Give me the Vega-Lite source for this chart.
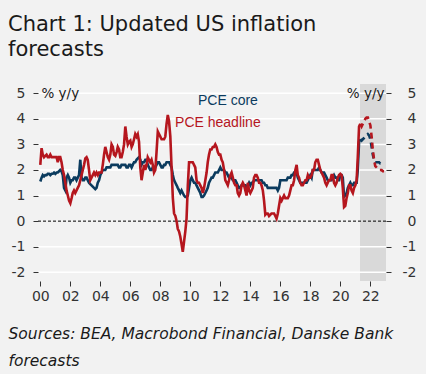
{
"$schema":"https://vega.github.io/schema/vega-lite/v6.json",
"autosize":"none","width":348,"height":197,
"padding":{"left":38,"top":84,"right":40,"bottom":93},
"background":"#f2f2f2",
"config":{"view":{"stroke":null},"font":"DejaVu Sans",
 "axisX":{"format":"%y","tickCount":{"interval":"year","step":2},"domain":false,"grid":false,"ticks":true,"tickSize":5,"tickColor":"#333333","labelFont":"DejaVu Sans","labelFontSize":14,"labelColor":"#333333","labelPadding":3,"labelFlush":false,"labelOverlap":false,
  "titleFont":"DejaVu Sans","titleFontStyle":"italic","titleFontWeight":"normal","titleFontSize":15.5,"titleColor":"#1a1a1a","titleAlign":"left","titleAnchor":"start","titleX":-30,"titleY":57,"titleBaseline":"alphabetic","titleLineHeight":27}},
"title":{"text":["Chart 1: Updated US inflation","forecasts"],"anchor":"start","frame":"group","font":"DejaVu Sans","fontSize":21,"fontWeight":"normal","color":"#1a1a1a","lineHeight":25,"dx":-30,"offset":24},
"datasets":{
"band":[{"s":"2021-04-24","e":"2023-01-17"}],
"grid":[{"g":-2},{"g":-1},{"g":1},{"g":2},{"g":3},{"g":4},{"g":5}],
"zero":[{"g":0}],
"lab":[{"t":"PCE core","d":"2010-07-06","v":4.69},{"t":"PCE headline","d":"2008-12-25","v":3.82}],
"act":[
{"d":"2000-01","h":2.2,"c":1.55},{"d":"2000-02","h":2.85,"c":1.7},{"d":"2000-03","h":2.6,"c":1.8},{"d":"2000-04","h":2.5,"c":1.75},{"d":"2000-05","h":2.55,"c":1.8},{"d":"2000-06","h":2.6,"c":1.8},{"d":"2000-07","h":2.5,"c":1.85},{"d":"2000-08","h":2.5,"c":1.85},{"d":"2000-09","h":2.6,"c":1.8},{"d":"2000-10","h":2.5,"c":1.85},{"d":"2000-11","h":2.5,"c":1.85},{"d":"2000-12","h":2.5,"c":1.9},
{"d":"2001-01","h":2.5,"c":1.85},{"d":"2001-02","h":2.5,"c":1.9},{"d":"2001-03","h":2.3,"c":1.9},{"d":"2001-04","h":2.5,"c":1.95},{"d":"2001-05","h":2.5,"c":2.0},{"d":"2001-06","h":2.3,"c":1.95},{"d":"2001-07","h":2.0,"c":1.8},{"d":"2001-08","h":1.8,"c":1.3},{"d":"2001-09","h":1.5,"c":1.2},{"d":"2001-10","h":1.2,"c":1.7},{"d":"2001-11","h":1.0,"c":1.8},{"d":"2001-12","h":0.8,"c":1.7},
{"d":"2002-01","h":0.7,"c":1.5},{"d":"2002-02","h":0.9,"c":1.6},{"d":"2002-03","h":1.1,"c":1.6},{"d":"2002-04","h":1.2,"c":1.7},{"d":"2002-05","h":1.1,"c":1.7},{"d":"2002-06","h":1.2,"c":1.6},{"d":"2002-07","h":1.3,"c":1.7},{"d":"2002-08","h":1.4,"c":1.8},{"d":"2002-09","h":1.6,"c":2.4},{"d":"2002-10","h":1.8,"c":1.7},{"d":"2002-11","h":2.0,"c":1.6},{"d":"2002-12","h":2.2,"c":1.6},
{"d":"2003-01","h":2.45,"c":1.7},{"d":"2003-02","h":2.5,"c":1.7},{"d":"2003-03","h":2.4,"c":1.6},{"d":"2003-04","h":2.0,"c":1.5},{"d":"2003-05","h":1.6,"c":1.45},{"d":"2003-06","h":1.7,"c":1.4},{"d":"2003-07","h":1.8,"c":1.35},{"d":"2003-08","h":1.9,"c":1.3},{"d":"2003-09","h":1.8,"c":1.25},{"d":"2003-10","h":1.9,"c":1.3},{"d":"2003-11","h":1.8,"c":1.5},{"d":"2003-12","h":1.9,"c":1.6},
{"d":"2004-01","h":1.9,"c":1.8},{"d":"2004-02","h":1.9,"c":1.9},{"d":"2004-03","h":2.2,"c":2.0},{"d":"2004-04","h":2.6,"c":2.0},{"d":"2004-05","h":2.9,"c":2.0},{"d":"2004-06","h":2.7,"c":2.1},{"d":"2004-07","h":2.5,"c":2.1},{"d":"2004-08","h":2.4,"c":2.1},{"d":"2004-09","h":2.6,"c":2.1},{"d":"2004-10","h":3.0,"c":2.2},{"d":"2004-11","h":2.9,"c":2.2},{"d":"2004-12","h":2.6,"c":2.2},
{"d":"2005-01","h":2.55,"c":2.2},{"d":"2005-02","h":2.7,"c":2.2},{"d":"2005-03","h":2.9,"c":2.2},{"d":"2005-04","h":2.8,"c":2.1},{"d":"2005-05","h":2.5,"c":2.1},{"d":"2005-06","h":2.5,"c":2.2},{"d":"2005-07","h":2.7,"c":2.2},{"d":"2005-08","h":3.0,"c":2.2},{"d":"2005-09","h":3.7,"c":2.2},{"d":"2005-10","h":3.3,"c":2.1},{"d":"2005-11","h":3.0,"c":2.1},{"d":"2005-12","h":3.1,"c":2.2},
{"d":"2006-01","h":3.15,"c":2.2},{"d":"2006-02","h":2.9,"c":2.1},{"d":"2006-03","h":3.0,"c":2.2},{"d":"2006-04","h":3.2,"c":2.3},{"d":"2006-05","h":3.4,"c":2.3},{"d":"2006-06","h":3.3,"c":2.4},{"d":"2006-07","h":3.4,"c":2.45},{"d":"2006-08","h":3.1,"c":2.5},{"d":"2006-09","h":2.1,"c":2.4},{"d":"2006-10","h":1.6,"c":2.2},{"d":"2006-11","h":1.9,"c":2.3},{"d":"2006-12","h":2.2,"c":2.3},
{"d":"2007-01","h":2.0,"c":2.4},{"d":"2007-02","h":2.2,"c":2.4},{"d":"2007-03","h":2.5,"c":2.2},{"d":"2007-04","h":2.4,"c":2.1},{"d":"2007-05","h":2.3,"c":2.0},{"d":"2007-06","h":2.4,"c":2.0},{"d":"2007-07","h":2.2,"c":2.1},{"d":"2007-08","h":1.9,"c":2.1},{"d":"2007-09","h":2.0,"c":2.1},{"d":"2007-10","h":2.7,"c":2.2},{"d":"2007-11","h":3.5,"c":2.3},{"d":"2007-12","h":3.4,"c":2.3},
{"d":"2008-01","h":3.3,"c":2.2},{"d":"2008-02","h":3.2,"c":2.1},{"d":"2008-03","h":3.2,"c":2.1},{"d":"2008-04","h":3.2,"c":2.2},{"d":"2008-05","h":3.3,"c":2.2},{"d":"2008-06","h":3.8,"c":2.3},{"d":"2008-07","h":4.15,"c":2.3},{"d":"2008-08","h":3.9,"c":2.3},{"d":"2008-09","h":3.3,"c":2.2},{"d":"2008-10","h":2.1,"c":2.1},{"d":"2008-11","h":0.9,"c":1.8},{"d":"2008-12","h":0.3,"c":1.6},
{"d":"2009-01","h":0.2,"c":1.5},{"d":"2009-02","h":0.0,"c":1.4},{"d":"2009-03","h":-0.3,"c":1.3},{"d":"2009-04","h":-0.4,"c":1.2},{"d":"2009-05","h":-0.6,"c":1.1},{"d":"2009-06","h":-0.9,"c":1.2},{"d":"2009-07","h":-1.2,"c":1.1},{"d":"2009-08","h":-0.8,"c":1.0},{"d":"2009-09","h":-0.4,"c":0.95},{"d":"2009-10","h":0.1,"c":0.95},{"d":"2009-11","h":1.4,"c":1.0},{"d":"2009-12","h":2.3,"c":1.3},
{"d":"2010-01","h":2.3,"c":1.6},{"d":"2010-02","h":2.3,"c":1.7},{"d":"2010-03","h":2.3,"c":1.6},{"d":"2010-04","h":2.2,"c":1.5},{"d":"2010-05","h":2.1,"c":1.5},{"d":"2010-06","h":1.6,"c":1.4},{"d":"2010-07","h":1.5,"c":1.3},{"d":"2010-08","h":1.5,"c":1.2},{"d":"2010-09","h":1.4,"c":1.1},{"d":"2010-10","h":1.3,"c":0.95},{"d":"2010-11","h":1.1,"c":0.95},{"d":"2010-12","h":1.3,"c":1.0},
{"d":"2011-01","h":1.6,"c":1.1},{"d":"2011-02","h":1.9,"c":1.2},{"d":"2011-03","h":2.3,"c":1.3},{"d":"2011-04","h":2.6,"c":1.5},{"d":"2011-05","h":2.8,"c":1.6},{"d":"2011-06","h":2.8,"c":1.7},{"d":"2011-07","h":2.9,"c":1.7},{"d":"2011-08","h":2.9,"c":1.8},{"d":"2011-09","h":3.0,"c":1.9},{"d":"2011-10","h":2.9,"c":1.9},{"d":"2011-11","h":2.7,"c":1.9},{"d":"2011-12","h":2.6,"c":2.0},
{"d":"2012-01","h":2.6,"c":2.1},{"d":"2012-02","h":2.4,"c":2.0},{"d":"2012-03","h":2.3,"c":2.0},{"d":"2012-04","h":2.0,"c":2.0},{"d":"2012-05","h":1.6,"c":1.9},{"d":"2012-06","h":1.5,"c":1.9},{"d":"2012-07","h":1.4,"c":1.8},{"d":"2012-08","h":1.6,"c":1.7},{"d":"2012-09","h":1.8,"c":1.7},{"d":"2012-10","h":1.9,"c":1.7},{"d":"2012-11","h":1.7,"c":1.6},{"d":"2012-12","h":1.5,"c":1.6},
{"d":"2013-01","h":1.4,"c":1.6},{"d":"2013-02","h":1.4,"c":1.5},{"d":"2013-03","h":1.1,"c":1.4},{"d":"2013-04","h":1.0,"c":1.3},{"d":"2013-05","h":1.1,"c":1.3},{"d":"2013-06","h":1.4,"c":1.4},{"d":"2013-07","h":1.5,"c":1.4},{"d":"2013-08","h":1.4,"c":1.4},{"d":"2013-09","h":1.2,"c":1.4},{"d":"2013-10","h":1.0,"c":1.3},{"d":"2013-11","h":1.5,"c":1.4},{"d":"2013-12","h":1.2,"c":1.5},
{"d":"2014-01","h":1.1,"c":1.4},{"d":"2014-02","h":1.2,"c":1.5},{"d":"2014-03","h":1.3,"c":1.5},{"d":"2014-04","h":1.7,"c":1.6},{"d":"2014-05","h":1.8,"c":1.6},{"d":"2014-06","h":1.8,"c":1.6},{"d":"2014-07","h":1.7,"c":1.6},{"d":"2014-08","h":1.5,"c":1.6},{"d":"2014-09","h":1.5,"c":1.6},{"d":"2014-10","h":1.4,"c":1.6},{"d":"2014-11","h":1.2,"c":1.5},{"d":"2014-12","h":0.8,"c":1.5},
{"d":"2015-01","h":0.25,"c":1.4},{"d":"2015-02","h":0.3,"c":1.4},{"d":"2015-03","h":0.3,"c":1.3},{"d":"2015-04","h":0.2,"c":1.3},{"d":"2015-05","h":0.25,"c":1.3},{"d":"2015-06","h":0.3,"c":1.3},{"d":"2015-07","h":0.3,"c":1.3},{"d":"2015-08","h":0.3,"c":1.3},{"d":"2015-09","h":0.2,"c":1.3},{"d":"2015-10","h":0.1,"c":1.3},{"d":"2015-11","h":0.3,"c":1.2},{"d":"2015-12","h":0.6,"c":1.3},
{"d":"2016-01","h":0.9,"c":1.6},{"d":"2016-02","h":0.8,"c":1.6},{"d":"2016-03","h":0.9,"c":1.6},{"d":"2016-04","h":1.0,"c":1.6},{"d":"2016-05","h":0.9,"c":1.6},{"d":"2016-06","h":0.9,"c":1.6},{"d":"2016-07","h":0.9,"c":1.7},{"d":"2016-08","h":1.0,"c":1.7},{"d":"2016-09","h":1.2,"c":1.7},{"d":"2016-10","h":1.4,"c":1.8},{"d":"2016-11","h":1.4,"c":1.8},{"d":"2016-12","h":1.6,"c":1.9},
{"d":"2017-01","h":2.0,"c":1.9},{"d":"2017-02","h":2.2,"c":1.9},{"d":"2017-03","h":1.8,"c":1.7},{"d":"2017-04","h":1.7,"c":1.6},{"d":"2017-05","h":1.5,"c":1.5},{"d":"2017-06","h":1.4,"c":1.5},{"d":"2017-07","h":1.4,"c":1.5},{"d":"2017-08","h":1.5,"c":1.5},{"d":"2017-09","h":1.6,"c":1.5},{"d":"2017-10","h":1.6,"c":1.5},{"d":"2017-11","h":1.8,"c":1.6},{"d":"2017-12","h":1.7,"c":1.7},
{"d":"2018-01","h":1.7,"c":1.8},{"d":"2018-02","h":1.8,"c":1.7},{"d":"2018-03","h":2.0,"c":2.0},{"d":"2018-04","h":2.0,"c":2.0},{"d":"2018-05","h":2.3,"c":2.0},{"d":"2018-06","h":2.4,"c":2.0},{"d":"2018-07","h":2.4,"c":2.0},{"d":"2018-08","h":2.2,"c":2.1},{"d":"2018-09","h":2.0,"c":2.0},{"d":"2018-10","h":1.9,"c":1.9},{"d":"2018-11","h":1.8,"c":1.9},{"d":"2018-12","h":1.7,"c":1.9},
{"d":"2019-01","h":1.5,"c":1.8},{"d":"2019-02","h":1.4,"c":1.7},{"d":"2019-03","h":1.5,"c":1.6},{"d":"2019-04","h":1.6,"c":1.6},{"d":"2019-05","h":1.6,"c":1.6},{"d":"2019-06","h":1.8,"c":1.6},{"d":"2019-07","h":1.8,"c":1.7},{"d":"2019-08","h":1.5,"c":1.8},{"d":"2019-09","h":1.4,"c":1.7},{"d":"2019-10","h":1.5,"c":1.7},{"d":"2019-11","h":1.7,"c":1.6},{"d":"2019-12","h":1.8,"c":1.6},
{"d":"2020-01","h":1.85,"c":1.8},{"d":"2020-02","h":1.8,"c":1.8},{"d":"2020-03","h":1.3,"c":1.7},{"d":"2020-04","h":0.55,"c":0.95},{"d":"2020-05","h":0.6,"c":1.0},{"d":"2020-06","h":0.9,"c":1.1},{"d":"2020-07","h":1.1,"c":1.3},{"d":"2020-08","h":1.4,"c":1.4},{"d":"2020-09","h":1.4,"c":1.5},{"d":"2020-10","h":1.2,"c":1.4},{"d":"2020-11","h":1.1,"c":1.4},{"d":"2020-12","h":1.3,"c":1.5},
{"d":"2021-01","h":1.4,"c":1.5},{"d":"2021-02","h":1.6,"c":1.5},{"d":"2021-03","h":2.5,"c":2.0},{"d":"2021-04","h":3.7,"c":3.1},{"d":"2021-05","h":3.8,"c":3.2}
],
"fc":[
{"d":"2021-05","h":3.8,"c":3.2},{"d":"2021-06","h":3.7,"c":3.15},{"d":"2021-07","h":3.8,"c":3.2},{"d":"2021-08","h":3.9,"c":3.25},{"d":"2021-09","h":4.0,"c":3.3},{"d":"2021-10","h":4.05,"c":3.35},{"d":"2021-11","h":4.05,"c":3.4},{"d":"2021-12","h":3.9,"c":3.35},
{"d":"2022-01","h":3.75,"c":3.2},{"d":"2022-02","h":3.3,"c":2.9},{"d":"2022-03","h":2.8,"c":2.6},{"d":"2022-04","h":2.4,"c":2.4},{"d":"2022-05","h":2.15,"c":2.3},{"d":"2022-06","h":2.1,"c":2.3},{"d":"2022-07","h":2.05,"c":2.3},{"d":"2022-08","h":2.0,"c":2.3},{"d":"2022-09","h":2.0,"c":2.25},{"d":"2022-10","h":2.0,"c":2.25},{"d":"2022-11","h":1.95,"c":2.25},{"d":"2022-12","h":1.95,"c":2.25}
]
},
"layer":[
{"data":{"name":"band"},"mark":{"type":"rect","color":"#d9d9d9"},
 "encoding":{
  "x":{"field":"s","type":"temporal","scale":{"domain":[{"year":1999,"month":11,"date":6,"utc":true},{"year":2023,"month":1,"date":17,"utc":true}]},
   "title":["Sources: BEA, Macrobond Financial, Danske Bank","forecasts"]},
  "x2":{"field":"e"}}},
{"data":{"name":"grid"},"mark":{"type":"rule","color":"#ffffff","strokeWidth":1.5},
 "encoding":{"y":{"field":"g","type":"quantitative","scale":{"domain":[-2.34,5.36],"nice":false,"zero":false},
  "axis":{"orient":"left","zindex":1,"values":[-2,-1,0,1,2,3,4,5],"grid":false,"domain":false,"tickSize":5,"tickColor":"#333333","labelPadding":8,"labelFont":"DejaVu Sans","labelFontSize":14,"labelColor":"#333333","labelExpr":"replace(datum.label,'−','-')",
   "title":"% y/y","titleAngle":0,"titleAlign":"left","titleBaseline":"middle","titleX":3,"titleY":9,"titleFont":"DejaVu Sans","titleFontSize":13.5,"titleFontWeight":"normal","titleColor":"#1a1a1a"}}}},
{"data":{"name":"zero"},"mark":{"type":"rule","color":"#000000","strokeWidth":1,"strokeDash":[3,2]},
 "encoding":{"y":{"field":"g","type":"quantitative","axis":null}}},
{"data":{"name":"act"},"mark":{"type":"line","color":"#0b3b5e","strokeWidth":2.6},
 "encoding":{"x":{"field":"d","type":"temporal"},"y":{"field":"c","type":"quantitative",
  "axis":{"orient":"right","zindex":1,"values":[-2,-1,0,1,2,3,4,5],"grid":false,"domain":false,"tickSize":5,"tickColor":"#333333","labelPadding":25,"labelAlign":"right","labelFont":"DejaVu Sans","labelFontSize":14,"labelColor":"#333333","labelExpr":"replace(datum.label,'−','-')",
   "title":"% y/y","titleAngle":0,"titleAlign":"right","titleBaseline":"middle","titleX":-2,"titleY":9,"titleFont":"DejaVu Sans","titleFontSize":13.5,"titleFontWeight":"normal","titleColor":"#1a1a1a"}}}},
{"data":{"name":"act"},"mark":{"type":"line","color":"#b5161e","strokeWidth":2.6},
 "encoding":{"x":{"field":"d","type":"temporal"},"y":{"field":"h","type":"quantitative","axis":null}}},
{"data":{"name":"fc"},"mark":{"type":"line","color":"#0b3b5e","strokeWidth":2.6,"strokeDash":[6,4]},
 "encoding":{"x":{"field":"d","type":"temporal"},"y":{"field":"c","type":"quantitative","axis":null}}},
{"data":{"name":"fc"},"mark":{"type":"line","color":"#b5161e","strokeWidth":2.6,"strokeDash":[6,4]},
 "encoding":{"x":{"field":"d","type":"temporal"},"y":{"field":"h","type":"quantitative","axis":null}}},
{"data":{"name":"lab"},"mark":{"type":"text","align":"left","baseline":"middle","font":"Liberation Sans","fontSize":14},
 "encoding":{"x":{"field":"d","type":"temporal"},"y":{"field":"v","type":"quantitative","axis":null},"text":{"field":"t"},
  "color":{"field":"t","type":"nominal","scale":{"domain":["PCE core","PCE headline"],"range":["#0b3b5e","#b5161e"]},"legend":null}}}
],
"resolve":{"axis":{"y":"independent"}}
}
